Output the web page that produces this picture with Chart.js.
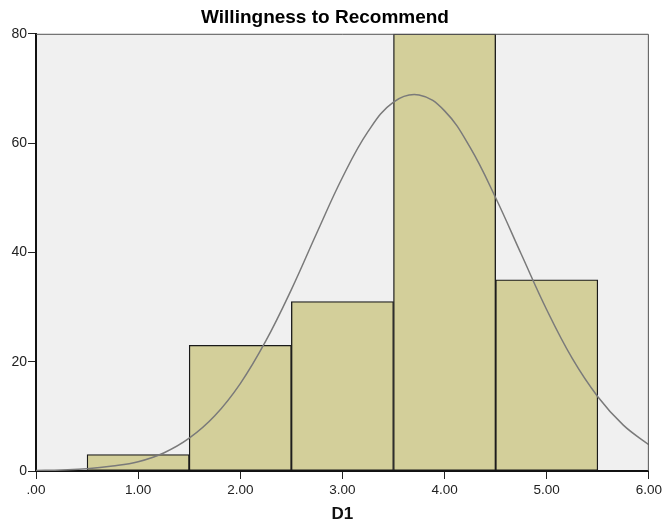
<!DOCTYPE html>
<html>
<head>
<meta charset="utf-8">
<script src="https://cdn.jsdelivr.net/npm/chart.js@4/dist/chart.umd.min.js"></script>
<style>
  html, body { margin: 0; padding: 0; background: #fff; }
  #wrap { width: 665px; height: 526px; }
</style>
</head>
<body>
<div id="wrap"><canvas id="chart"></canvas></div>
<script>
// histogram bins (midpoints) and counts
const binCenters = [1, 2, 3, 4, 5];
const counts = [3, 23, 31, 80, 35];

// normal curve
const curveX = [0, 0.25, 0.5, 0.75, 1, 1.25, 1.5, 1.75, 2, 2.25, 2.5, 2.75, 3, 3.25, 3.5, 3.75, 4, 4.25, 4.5, 4.75, 5, 5.25, 5.5, 5.75, 6];
const curveY = [0.1, 0.2, 0.4, 0.9, 1.7, 3.3, 6.0, 10.1, 16.0, 23.8, 33.2, 43.6, 53.7, 62.1, 67.5, 68.8, 65.9, 59.2, 50.0, 39.7, 29.5, 20.6, 13.6, 8.4, 4.8];

const xTicks = [0, 1, 2, 3, 4, 5, 6];
const yTicks = [0, 20, 40, 60, 80];

const plotBackground = {
  id: "plotBackground",
  beforeDraw(chart) {
    const { ctx, chartArea: a } = chart;
    ctx.save();
    ctx.fillStyle = "#f0f0f0";
    ctx.fillRect(a.left, a.top, a.right - a.left, a.bottom - a.top);
    ctx.restore();
  },
  afterDraw(chart) {
    const { ctx, chartArea: a } = chart;
    ctx.save();
    ctx.strokeStyle = "#555";
    ctx.lineWidth = 1;
    ctx.beginPath();
    ctx.moveTo(a.left, a.top + 0.5);
    ctx.lineTo(a.right - 0.5, a.top + 0.5);
    ctx.lineTo(a.right - 0.5, a.bottom);
    ctx.stroke();
    ctx.restore();
  },
};

new Chart(document.getElementById("chart"), {
  data: {
    datasets: [
      {
        type: "line",
        data: curveX.map((x, i) => ({ x, y: curveY[i] })),
        borderColor: "#7a7a7a",
        borderWidth: 1.5,
        pointRadius: 0,
        tension: 0.4,
        order: 0,
      },
      {
        type: "bar",
        data: binCenters.map((x, i) => ({ x, y: counts[i] })),
        backgroundColor: "#d3cf9a",
        borderColor: "#1a1a1a",
        borderWidth: 1.3,
        borderSkipped: false,
        barPercentage: 1,
        categoryPercentage: 1,
        order: 1,
      },
    ],
  },
  options: {
    responsive: true,
    maintainAspectRatio: false,
    animation: false,
    layout: { padding: { left: 0, right: 15, top: 0, bottom: 0 } },
    plugins: {
      legend: { display: false },
      tooltip: { enabled: false },
      title: {
        display: true,
        text: "Willingness to Recommend",
        color: "#000",
        font: { family: "Arial, 'Liberation Sans'", size: 19, weight: "bold" },
        padding: { top: 6, bottom: 5 },
      },
    },
    scales: {
      x: {
        type: "linear",
        min: 0,
        max: 6,
        offset: false,
        afterBuildTicks(scale) {
          scale.ticks = xTicks.map((v) => ({ value: v }));
        },
        afterFit(scale) {
          scale.height = 55;
        },
        ticks: {
          color: "#222",
          font: { family: "Arial, 'Liberation Sans'", size: 13.5 },
          padding: 3,
          maxRotation: 0,
          callback: (v) => (v === 0 ? ".00" : v.toFixed(2)),
        },
        grid: { offset: false, drawOnChartArea: false, tickLength: 8, tickColor: "#222", tickWidth: 1 },
        border: { display: true, color: "#111", width: 2 },
        title: {
          display: true,
          text: "D1",
          color: "#111",
          font: { family: "Arial, 'Liberation Sans'", size: 17, weight: "bold" },
          padding: { top: 4, bottom: 1 },
        },
      },
      y: {
        min: 0,
        max: 80,
        afterBuildTicks(scale) {
          scale.ticks = yTicks.map((v) => ({ value: v }));
        },
        afterFit(scale) {
          scale.width = 36;
        },
        ticks: {
          color: "#222",
          font: { family: "Arial, 'Liberation Sans'", size: 14 },
          padding: 1,
        },
        grid: { drawOnChartArea: false, tickLength: 8, tickColor: "#222", tickWidth: 1 },
        border: { display: true, color: "#111", width: 2 },
      },
    },
  },
  plugins: [plotBackground],
});
</script>
</body>
</html>
